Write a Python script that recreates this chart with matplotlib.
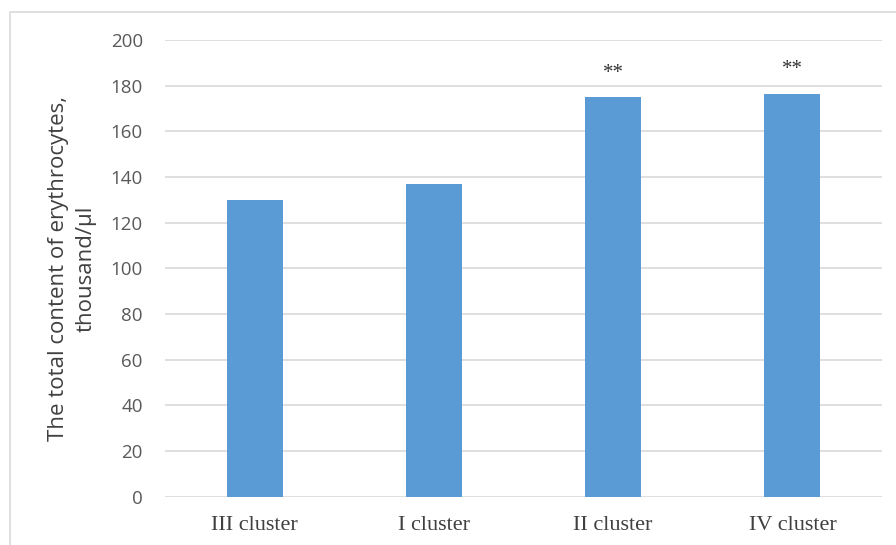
import matplotlib.pyplot as plt
from matplotlib.patches import Rectangle

# data
clusters = ['III cluster', 'I cluster', 'II cluster', 'IV cluster']
erythrocytes = [130, 137, 175, 176.5]
marks = ['', '', '**', '**']
yticks = [0, 20, 40, 60, 80, 100, 120, 140, 160, 180, 200]

fig = plt.figure(figsize=(8.96, 5.45), dpi=100)
# chart frame (only left and top edges fall inside the picture)
fig.patches.append(Rectangle((10 / 896, -0.1), 1.0, 1 - 12 / 545 + 0.1,
                             transform=fig.transFigure, fill=False,
                             edgecolor='#D9D9D9', linewidth=1.2))

ax = fig.add_axes([165 / 896, 1 - 496.7 / 545, 717 / 896, 456.7 / 545])
x = range(len(clusters))
ax.bar(x, erythrocytes, width=0.3125, color='#5B9BD5', zorder=3)

for i, (v, m) in enumerate(zip(erythrocytes, marks)):
    if m:
        ax.annotate(m, (i, v), xytext=(0, 14), textcoords='offset points',
                    ha='center', va='baseline', fontsize=15,
                    family='Liberation Serif', color='#333333')

ax.set_xlim(-0.5, len(clusters) - 0.5)
ax.set_ylim(0, 200)
ax.set_yticks(yticks)
ax.set_yticklabels([str(t) for t in yticks], family='Open Sans',
                   fontsize=13.5, color='#595959')
ax.set_xticks(list(x))
ax.set_xticklabels(clusters, family='Liberation Serif', fontsize=16,
                   color='#404040')
ax.tick_params(axis='both', length=0)
ax.tick_params(axis='y', pad=16)
ax.tick_params(axis='x', pad=14)
ax.grid(axis='y', color='#D9D9D9', linewidth=1.2, zorder=0)
for s in ax.spines.values():
    s.set_visible(False)

ax.set_ylabel('The total content of erythrocytes,\nthousand/\u03bcl',
              family='Open Sans', fontsize=16, color='#404040',
              linespacing=1.4, labelpad=10)

fig.savefig('out.png', dpi=100)
